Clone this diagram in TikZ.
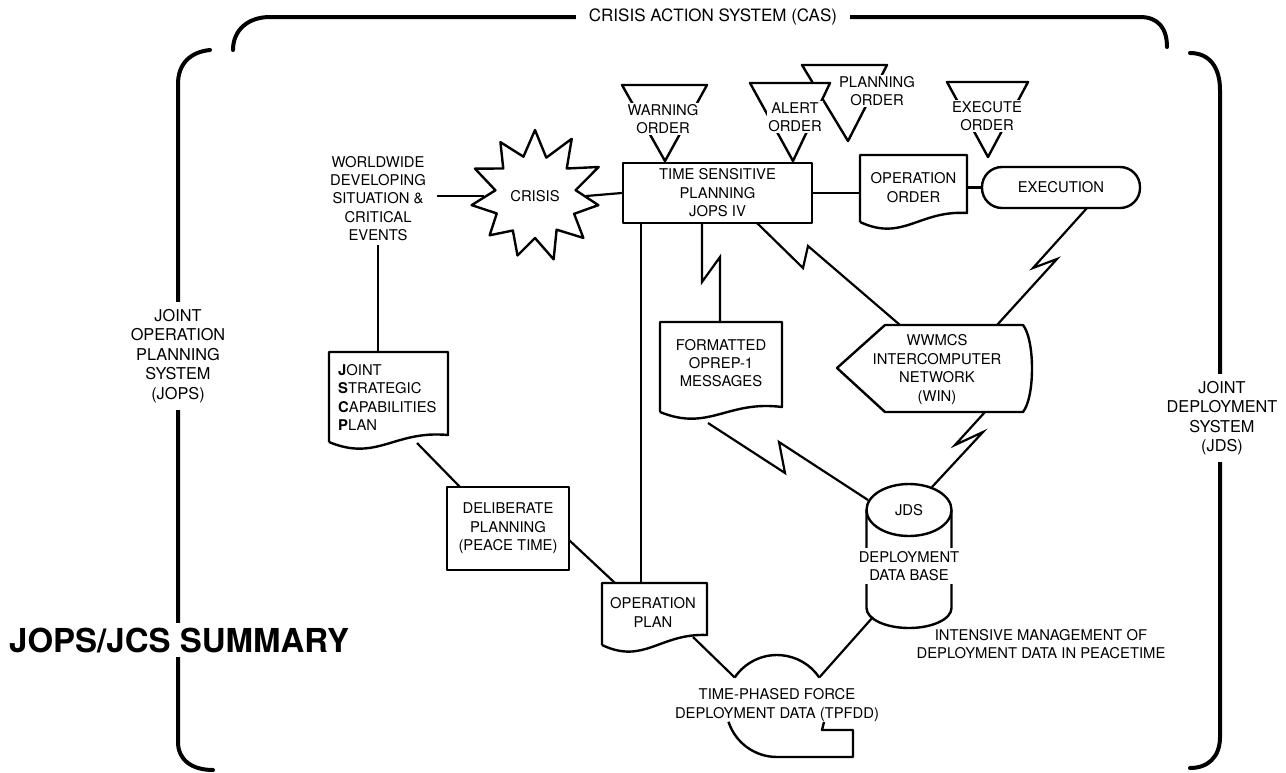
\documentclass[tikz,border=0pt]{standalone}
\usepackage{fontspec}
\setmainfont{TeX Gyre Heros}
\usetikzlibrary{calc}
\begin{document}
\begin{tikzpicture}[x=1pt,y=-1pt,
  shp/.style={line width=2.4pt, line join=round},
  conn/.style={line width=2.2pt, line join=miter},
  brk/.style={line width=4pt, line cap=round},
  lbl/.style={font=\fontsize{14.8}{18.4}\selectfont, align=center, inner sep=1pt},
  wlbl/.style={lbl, fill=white},
  sidelbl/.style={font=\fontsize{16.3}{19.5}\selectfont, align=center, fill=white, inner xsep=3pt, inner ysep=7pt}]
\useasboundingbox (0,0) rectangle (1286,772);

% ---- outer brackets ----
\draw[brk] (210,50) .. controls (190,52) and (178,64) .. (178,84) -- (178,742)
  .. controls (178,760) and (192,770) .. (213,770);
\draw[brk] (233,50) .. controls (233,30) and (248,17) .. (270,17) -- (1140,17)
  .. controls (1158,17) and (1167,28) .. (1167,47);
\draw[brk] (1190,53) .. controls (1210,53) and (1220,68) .. (1220,90) -- (1220,737)
  .. controls (1220,757) and (1208,768) .. (1190,768);
\node[sidelbl] (jops) at (178,356) {JOINT\\OPERATION\\PLANNING\\SYSTEM\\(JOPS)};
\node[sidelbl] (jdslbl) at (1222,418) {JOINT\\DEPLOYMENT\\SYSTEM\\(JDS)};
\node[font=\fontsize{17}{20}\selectfont, fill=white, inner xsep=13pt, inner ysep=2pt] (cas) at (713,17) {CRISIS ACTION SYSTEM (CAS)};
\node[font=\bfseries\fontsize{33}{38}\selectfont, fill=white, anchor=west, inner xsep=0pt, inner ysep=5pt] (summary) at (9,640) {JOPS/JCS SUMMARY};

% ---- order triangles ----
\draw[shp, fill=white] (622,85) -- (707,85) -- (665,161) -- cycle;
\node[wlbl] (warn) at (663,119) {WARNING\\ORDER};
\draw[shp, fill=white] (802,65) -- (887,65) -- (848,141) -- cycle;
\node[wlbl] (plan) at (877,91) {PLANNING\\ORDER};
\draw[shp, fill=white] (750,83) -- (830,83) -- (793,161) -- cycle;
\node[wlbl] (alert) at (795,117) {ALERT\\ORDER};
\draw[shp, fill=white] (947,82) -- (1028,82) -- (988,157) -- cycle;
\node[wlbl] (exe) at (987,116) {EXECUTE\\ORDER};

% ---- crisis star ----
\coordinate (cc) at (535,196);
\draw[shp] ($(cc)+(-90:66)$)
  \foreach \a/\r in {-73.6/40, -57.3/68, -40.9/42, -24.5/70, -8.2/41, 8.2/64, 24.5/43,
                     40.9/64, 57.3/40, 73.6/66, 90/42, 106.4/62, 122.7/41, 139.1/60, 155.5/42,
                     171.8/64, 188.2/40, 204.5/66, 220.9/42, 237.3/64, 253.6/41}
  { -- ($(cc)+(\a:\r)$) } -- cycle;
\node[lbl, circle, minimum size=102pt] (crisis) at (cc) {CRISIS};

% ---- worldwide events ----
\node[lbl] (ww) at (378,198.5) {WORLDWIDE\\DEVELOPING\\SITUATION \&\\CRITICAL\\EVENTS};
\coordinate (wwR) at (437,196);
\coordinate (wwB) at (378,245);

% ---- time sensitive planning ----
\node[lbl, shp, draw, minimum width=189pt, minimum height=60pt] (tsp) at (717.5,193) {TIME SENSITIVE\\PLANNING\\JOPS IV};

% ---- operation order (document) ----
\draw[shp] (860,222) -- (860,155) -- (967,155) -- (967,213)
  .. controls (919,210) and (903,242) .. (860,222);
\node[lbl, minimum width=107pt, minimum height=60pt] (opord) at (913.5,187.5) {OPERATION\\ORDER};

% ---- execution ----
\node[lbl, shp, draw, rounded corners=20pt, minimum width=158pt, minimum height=41pt] (exec) at (1061,187.5) {EXECUTION};

% ---- formatted OPREP-1 messages (document) ----
\draw[shp] (660,412) -- (660,322) -- (782,322) -- (782,407)
  .. controls (727,400) and (709,432) .. (660,412);
\node[lbl, minimum width=122pt, minimum height=80pt] (oprep) at (721,363) {FORMATTED\\OPREP-1\\MESSAGES};

% ---- WIN ----
\draw[shp] (837,368) -- (885,325) -- (1023,325) .. controls (1035,340) and (1035,397) .. (1023,412)
  -- (885,412) -- cycle;
\node[lbl] (win) at (937,369.5) {WWMCS\\INTERCOMPUTER\\NETWORK\\(WIN)};

% ---- JSCP (document) ----
\draw[shp] (329,442) -- (329,352) -- (448,352) -- (448,435)
  .. controls (394,430) and (377,462) .. (329,442);
\node[lbl, align=left, anchor=west] (jscp) at (337,397.5) {\textbf{J}OINT\\\textbf{S}TRATEGIC\\\textbf{C}APABILITIES\\\textbf{P}LAN};

% ---- deliberate planning ----
\node[lbl, shp, draw, minimum width=122pt, minimum height=83pt] (dp) at (508,528.5) {DELIBERATE\\PLANNING\\(PEACE TIME)};

% ---- operation plan (document) ----
\draw[shp] (602,645) -- (602,583) -- (707,583) -- (707,635)
  .. controls (660,633) and (644,665) .. (602,645);
\node[lbl] (oplan) at (653,612.5) {OPERATION\\PLAN};

% ---- JDS deployment data base (cylinder) ----
\draw[shp] (866.5,510) -- (866.5,608) arc[start angle=180, end angle=0, x radius=42.5, y radius=20] -- (951.5,510);
\draw[shp, fill=white] (909,510) ellipse [x radius=42.5, y radius=26];
\node[lbl] (jdstop) at (909,510) {JDS};
\node[wlbl, inner xsep=2pt, inner ysep=3pt] (jdsdb) at (909,566) {DEPLOYMENT\\DATA BASE};
\node[lbl] (intens) at (1041,644) {INTENSIVE MANAGEMENT OF\\DEPLOYMENT DATA IN PEACETIME};

% ---- TPFDD ----
\coordinate (tp) at (777,706);
\draw[shp] ($(tp)+(-146:51)$) arc[start angle=-146, end angle=-34, radius=51];
\draw[shp] ($(tp)+(162:51)$) arc[start angle=162, end angle=90, radius=51]
  -- (853,757) -- (853,730) -- (822,730) -- (824,722);
\node[lbl] (tpfdd) at (777,705) {TIME-PHASED FORCE\\DEPLOYMENT DATA (TPFDD)};

% ---- connector end points ----
\coordinate (tspB) at (641,223);
\coordinate (oplanT) at (641,583);
\coordinate (jscpT) at (378,352);
\coordinate (jscpB) at (417,443);
\coordinate (dpTL) at (460,487);
\coordinate (dpR) at (569,540);
\coordinate (oplanTL) at (615,583);
\coordinate (oplanB) at (693,637);
\coordinate (tpL) at ($(tp)+(-146:51)$);
\coordinate (tpR) at ($(tp)+(-34:51)$);
\coordinate (jdsBL) at (873,617);
\coordinate (oprepB) at (708,423);
\coordinate (jdsL) at (868,500);
\coordinate (jdsR) at (932,487);
\coordinate (winB) at (985,412);
\coordinate (winTL) at (900,325);
\coordinate (winTR) at (997,325);
\coordinate (execB) at (1087,208);
\coordinate (tspBR) at (757,223);
\coordinate (tspBM) at (702,223);
\coordinate (oprepT) at (720,322);

% ---- plain connectors ----
\draw[conn] (wwR) -- (crisis.west);
\draw[conn] (crisis.east) -- (tsp.west);
\draw[conn] (tsp.east) -- (tsp.east -| opord.west);
\draw[conn] (opord.east |- exec.west) -- (exec.west);
\draw[conn] (tspB) -- (oplanT);
\draw[conn] (wwB) -- (jscpT);
\draw[conn] (jscpB) -- (dpTL);
\draw[conn] (dpR) -- (oplanTL);
\draw[conn] (oplanB) -- (tpL);
\draw[conn] (jdsBL) -- (tpR);

% ---- communication links (lightning) ----
\draw[conn] (tspBM) -- ++(0,59) -- ++(18,-25) -- (oprepT);
\draw[conn] (tspBR) -- ++(46,45) -- ++(5,-22) -- (winTL);
\draw[conn] (execB) -- ++(-54,60) -- ++(24,-9) -- (winTR);
\draw[conn] (winB) -- ++(-30,33) -- ++(28,-13) -- (jdsR);
\draw[conn] (oprepB) -- ++(77,50) -- ++(-6,-31) -- (jdsL);
\end{tikzpicture}
\end{document}
